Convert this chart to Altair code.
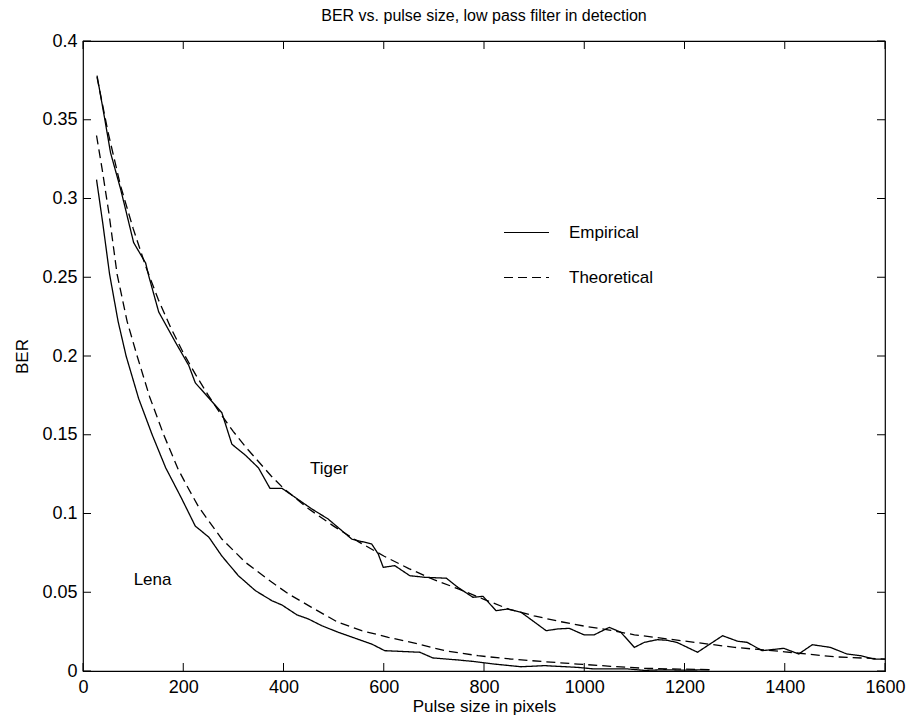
import altair as alt
import pandas as pd

# ---------------- data ----------------
tiger_emp_x = [28, 42, 55, 75, 85, 101, 125, 131, 151, 184, 211, 224, 277, 297, 324, 350,
               373, 397, 456, 489, 536, 576, 589, 599, 622, 652, 682, 725, 748, 778, 798,
               824, 848, 874, 924, 947, 970, 1000, 1020, 1050, 1073, 1100, 1120, 1146,
               1166, 1186, 1226, 1276, 1306, 1325, 1355, 1398, 1428, 1455, 1491, 1524,
               1551, 1578, 1600]
tiger_emp_y = [0.378, 0.353, 0.329, 0.306, 0.293, 0.272, 0.259, 0.251, 0.228, 0.209, 0.194,
               0.183, 0.164, 0.144, 0.137, 0.129, 0.116, 0.116, 0.103, 0.0965, 0.0838,
               0.0806, 0.0743, 0.0658, 0.0669, 0.0605, 0.0595, 0.0589, 0.0531, 0.0468,
               0.0474, 0.0383, 0.0394, 0.0373, 0.0256, 0.0267, 0.0271, 0.0229, 0.0230,
               0.0277, 0.0246, 0.0150, 0.0182, 0.0199, 0.0195, 0.0180, 0.0119, 0.0224,
               0.0189, 0.0182, 0.0129, 0.0144, 0.0108, 0.0167, 0.0150, 0.0108, 0.0097,
               0.0076, 0.0076]

tiger_th_x = [28, 50, 75, 100, 125, 150, 175, 200, 225, 250, 275, 300, 325, 350, 375, 400,
              450, 500, 550, 600, 650, 700, 750, 800, 850, 900, 950, 1000, 1050, 1100,
              1150, 1200, 1300, 1400, 1500, 1600]
tiger_th_y = [0.377, 0.342, 0.308, 0.281, 0.257, 0.236, 0.218, 0.202, 0.188, 0.175, 0.163,
              0.152, 0.142, 0.133, 0.124, 0.116, 0.103, 0.092, 0.082, 0.073, 0.065, 0.058,
              0.052, 0.0455, 0.0392, 0.035, 0.0315, 0.0285, 0.026, 0.023, 0.021, 0.019,
              0.015, 0.0122, 0.0090, 0.0076]

lena_emp_x = [27, 40, 53, 70, 86, 111, 138, 165, 196, 224, 251, 277, 310, 344, 377, 397,
              427, 450, 476, 509, 543, 576, 602, 672, 698, 748, 781, 821, 874, 921, 987,
              1020, 1087, 1120, 1160, 1200, 1250]
lena_emp_y = [0.312, 0.283, 0.252, 0.222, 0.200, 0.173, 0.150, 0.129, 0.110, 0.092, 0.085,
              0.073, 0.0605, 0.051, 0.0446, 0.0419, 0.0356, 0.033, 0.0288, 0.0246, 0.0208,
              0.0171, 0.0129, 0.0119, 0.0083, 0.0070, 0.0060, 0.0044, 0.0027, 0.0034,
              0.0023, 0.0013, 0.0013, 0.0004, 0.0008, 0.0005, 0.0008]

lena_th_x = [27, 38, 52, 68, 88, 108, 133, 161, 190, 210, 231, 277, 324, 377, 410, 456,
             509, 556, 609, 655, 722, 788, 854, 921, 987, 1053, 1120, 1190, 1250]
lena_th_y = [0.340, 0.319, 0.290, 0.252, 0.222, 0.200, 0.174, 0.150, 0.128, 0.116, 0.104,
             0.0838, 0.069, 0.0563, 0.0489, 0.0404, 0.0309, 0.0256, 0.0214, 0.0182,
             0.0129, 0.0097, 0.0076, 0.0059, 0.0044, 0.0030, 0.0017, 0.0012, 0.0009]

label_text = ["Tiger", "Lena"]
label_x = [453, 101]
label_y = [0.128, 0.058]

x_ticks = [0, 200, 400, 600, 800, 1000, 1200, 1400, 1600]
y_ticks = [0, 0.05, 0.1, 0.15, 0.2, 0.25, 0.3, 0.35, 0.4]

kinds = ["Empirical", "Theoretical"]

# ---------------- build tables ----------------
rows = []
for img, kind, xs, ys in [
    ("Tiger", "Empirical", tiger_emp_x, tiger_emp_y),
    ("Tiger", "Theoretical", tiger_th_x, tiger_th_y),
    ("Lena", "Empirical", lena_emp_x, lena_emp_y),
    ("Lena", "Theoretical", lena_th_x, lena_th_y),
]:
    for x, y in zip(xs, ys):
        rows.append({"x": x, "y": y, "kind": kind, "series": img + " " + kind})
df = pd.DataFrame(rows)
df_labels = pd.DataFrame({"x": label_x, "y": label_y, "text": label_text})
df_xt = pd.DataFrame({"x": x_ticks})
df_yt = pd.DataFrame({"y": y_ticks})

FONT = "Liberation Sans"
W, H = 802, 630
TL = 8

xscale = alt.Scale(domain=[0, 1600], nice=False, zero=False)
yscale = alt.Scale(domain=[0, 0.4], nice=False, zero=False)

axis_common = dict(ticks=False, tickSize=0, domain=False, grid=False, labelFlush=False,
                   labelFont=FONT, labelFontSize=18, labelColor="black",
                   titleFont=FONT, titleFontWeight="normal", titleColor="black",
                   titleFontSize=17)
x_axis = alt.Axis(values=x_ticks, format="d", title="Pulse size in pixels",
                  labelPadding=7, titlePadding=2, **axis_common)
y_axis = alt.Axis(values=y_ticks, format="~g", title="BER",
                  labelPadding=6, titlePadding=10, **axis_common)

X = alt.X("x:Q", scale=xscale, axis=x_axis)
Y = alt.Y("y:Q", scale=yscale, axis=y_axis)

lines = alt.Chart(df).mark_line(color="black", strokeWidth=1.3).encode(
    x=X,
    y=Y,
    strokeDash=alt.StrokeDash(
        "kind:N",
        scale=alt.Scale(domain=kinds, range=[[1, 0], [9, 5]]),
        legend=alt.Legend(title=None, orient="none", legendX=420, legendY=168,
                          symbolType="stroke", symbolSize=2025, symbolStrokeWidth=1.2,
                          symbolStrokeColor="black", labelFont=FONT, labelFontSize=17,
                          labelColor="black", labelOffset=19, rowPadding=13, padding=0),
    ),
    detail="series:N",
    order="x:Q",
)

labels = alt.Chart(df_labels).mark_text(
    align="left", baseline="middle", font=FONT, fontSize=17, color="black"
).encode(x=X, y=Y, text="text:N")

tick_style = dict(color="black", strokeWidth=1)
xt_bottom = alt.Chart(df_xt).mark_rule(**tick_style).encode(
    x=X, y=alt.value(H), y2=alt.value(H - TL))
xt_top = alt.Chart(df_xt).mark_rule(**tick_style).encode(
    x=X, y=alt.value(0), y2=alt.value(TL))
yt_left = alt.Chart(df_yt).mark_rule(**tick_style).encode(
    y=Y, x=alt.value(0), x2=alt.value(TL))
yt_right = alt.Chart(df_yt).mark_rule(**tick_style).encode(
    y=Y, x=alt.value(W - TL), x2=alt.value(W))

chart = alt.layer(lines, labels, xt_bottom, xt_top, yt_left, yt_right).properties(
    width=W, height=H,
    padding={"left": 75, "top": 33, "right": 21, "bottom": 46},
    autosize=alt.AutoSizeParams(type="none"),
    title=alt.TitleParams(text="BER vs. pulse size, low pass filter in detection",
                          font=FONT, fontSize=16, fontWeight="normal", color="black",
                          anchor="middle", offset=8),
).configure_view(stroke="black", strokeWidth=1.2)

chart.save("out.html", embed_options={"renderer": "svg", "actions": False})
